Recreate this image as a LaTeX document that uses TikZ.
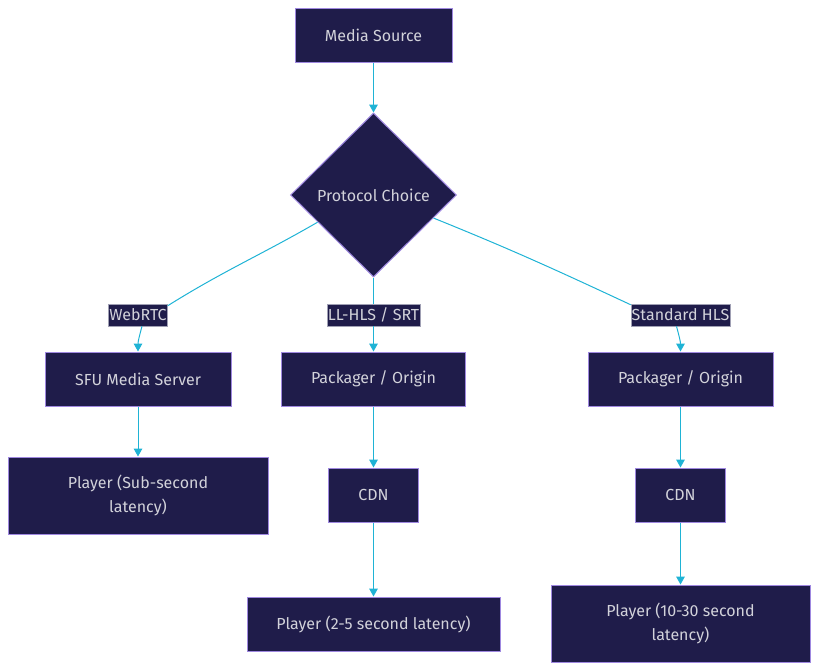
\documentclass[tikz,border=0pt]{standalone}
\usepackage{fontspec}
\setmainfont{Fira Sans}
\usetikzlibrary{shapes.geometric,arrows.meta,calc}
\definecolor{nodefill}{HTML}{1F1C4A}
\definecolor{nodeborder}{HTML}{9F88E0}
\definecolor{nodetext}{HTML}{D2D2DA}
\definecolor{edgecol}{HTML}{1FB3D5}
\definecolor{lblborder}{HTML}{A0A0B4}
\begin{document}
\begin{tikzpicture}[x=0.75pt,y=-0.75pt,
  box/.style={draw=nodeborder,fill=nodefill,line width=0.75pt,text=nodetext,
    font=\fontsize{12}{18}\selectfont,inner sep=0pt,align=center},
  choice/.style={diamond,draw=nodeborder,fill=nodefill,line width=0.75pt,text=nodetext,
    font=\fontsize{12}{18}\selectfont,inner sep=0pt,minimum width=124.5pt,minimum height=123pt},
  lbl/.style={fill=nodefill,draw=lblborder,line width=0.4pt,text=nodetext,
    font=\fontsize{12}{14}\selectfont,inner xsep=0.6pt,inner ysep=0pt,minimum height=16.5pt},
  edge/.style={draw=edgecol,line width=0.75pt},
  arr/.style={edge,-{Triangle[length=6pt,width=6.5pt]}}]
\useasboundingbox (0,0) rectangle (819,671);

\node[box,minimum width=117.75pt,minimum height=40.5pt] (ms) at (373.5,35) {Media Source};
\node[choice] (dia) at (373.5,195) {Protocol Choice};

\node[lbl] (lw) at (138,315) {WebRTC};
\node[lbl] (lm) at (373.5,315) {LL-HLS / SRT};
\node[lbl] (lr) at (680.5,315) {Standard HLS};

\node[box,minimum width=139.5pt,minimum height=40.5pt] (sfu) at (138,379) {SFU Media Server};
\node[box,minimum width=138pt,minimum height=40.5pt] (pm) at (373.5,379) {Packager / Origin};
\node[box,minimum width=138.75pt,minimum height=40.5pt] (pr) at (680.5,379) {Packager / Origin};

\node[box,minimum width=195pt,minimum height=57.75pt] (ps) at (138,495.5) {Player (Sub-second\\latency)};
\node[box,minimum width=67.5pt,minimum height=40.5pt] (cm) at (373.5,495) {CDN};
\node[box,minimum width=67.5pt,minimum height=40.5pt] (cr) at (680.5,495) {CDN};

\node[box,minimum width=189.75pt,minimum height=40.5pt] (pl2) at (373.5,624) {Player (2-5 second latency)};
\node[box,minimum width=194.25pt,minimum height=57.75pt] (pl3) at (680.5,623.5) {Player (10-30 second\\latency)};

\draw[arr] (ms.south) -- (dia.north);

\coordinate (dw) at ($(dia.west)!0.33!(dia.south)$);
\coordinate (de) at ($(dia.east)!0.28!(dia.south)$);
\draw[edge] (dw) to[out=210,in=32] ($(lw.north east)+(0,2)$);
\draw[arr] ($(lw.south)+(4,0)$) to[out=-105,in=90] (sfu.north);

\draw[edge] (dia.south) -- (lm.north);
\draw[arr] (lm.south) -- (pm.north);

\draw[edge] (de) to[out=-22,in=155] ($(lr.north west)+(0,1)$);
\draw[arr] ($(lr.south)+(-4,0)$) to[out=-75,in=90] (pr.north);

\draw[arr] (sfu.south) -- (ps.north);
\draw[arr] (pm.south) -- (cm.north);
\draw[arr] (cm.south) -- (pl2.north);
\draw[arr] (pr.south) -- (cr.north);
\draw[arr] (cr.south) -- (pl3.north);
\end{tikzpicture}
\end{document}
